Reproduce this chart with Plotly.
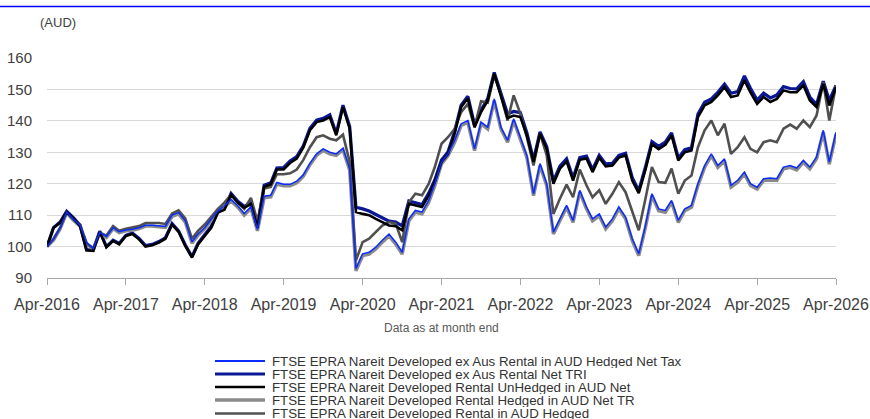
import pandas as pd
import plotly.graph_objects as go

# Month-end index levels (AUD), Apr-2016 = 100
months = pd.date_range("2016-04-01", periods=121, freq="MS")

series_names = [
    "FTSE EPRA Nareit Developed ex Aus Rental in AUD Hedged Net Tax",
    "FTSE EPRA Nareit Developed ex Aus Rental Net TRI",
    "FTSE EPRA Nareit Developed Rental UnHedged in AUD Net",
    "FTSE EPRA Nareit Developed Rental Hedged in AUD Net TR",
    "FTSE EPRA Nareit Developed Rental in AUD Hedged",
]

ex_aus_hedged_net_tax = [
    100, 102.3, 106, 111, 108.7, 106.8, 101.3, 99.4, 104.5, 103.2,
    106, 104.7, 105.3, 105.5, 106, 106.8, 106.8, 106.6, 106.4, 110,
    110.8, 108.2, 101.5, 104, 106, 108.7, 111.3, 113, 115, 113,
    110.5, 112.7, 105.5, 116, 116.3, 120.4, 119.8, 119.8, 120.8, 122.8,
    126.5, 129.5, 131.1, 130, 129.5, 131.3, 124.8, 93, 97.7, 98.2,
    99.8, 102, 104, 101.4, 98.2, 108.8, 111.5, 111, 114.7, 120,
    126.9, 129.5, 133.8, 139.1, 140.1, 131.1, 139.6, 138, 147, 138,
    133.8, 140.7, 134.8, 129, 116.8, 126.4, 120, 104.6, 108.8, 113.1,
    108.3, 117.9, 112.6, 108.8, 110.4, 106.2, 108.8, 112.6, 109.4, 102.5,
    97.7, 106.7, 116.8, 112, 111.5, 114.7, 108.3, 112, 113.1, 120,
    125.8, 129.5, 125.8, 127.9, 119.5, 121.1, 123.7, 120, 118.9, 121.6,
    121.8, 121.6, 125.3, 125.8, 125, 127.4, 125.3, 128.5, 137, 126.9,
    136.4,
]

ex_aus_net_tri = [
    100, 106, 107.8, 111.2, 109.2, 106.8, 99, 98.8, 104.9, 100,
    102, 101, 103.6, 104.3, 102.6, 100.3, 100.7, 101.6, 102.8, 107.3,
    105, 100.5, 96.8, 101, 103.8, 106.4, 111.2, 112.1, 116.9, 114.4,
    112.8, 113.9, 106.3, 119.5, 120.3, 125, 125.1, 127.2, 128.6, 132,
    137.6, 140.2, 140.8, 141.9, 136, 145, 138.2, 112.5, 112, 111.3,
    110.2, 109.2, 108.1, 107.8, 106.6, 114.5, 114, 113.4, 117, 121.2,
    127.5, 130.1, 136.7, 145, 147.8, 138.7, 143.4, 147.1, 155.4, 148.8,
    142.2, 143, 142.6, 136.2, 127.6, 136.5, 131.8, 120.8, 125.6, 127.9,
    121.8, 128.3, 128.8, 124.5, 129, 126.3, 126.5, 129, 129.7, 121.9,
    117.8, 125.3, 133.4, 131.9, 133.2, 136.2, 128.2, 130.8, 131.4, 142.2,
    145.9, 147, 149.1, 151.7, 148.8, 149.3, 154.3, 150.4, 146.6, 148.8,
    147.3, 148.2, 150.9, 150.3, 150.2, 152.5, 147.6, 145.2, 152.6, 146.5,
    151.3,
]

unhedged_aud_net = [
    100, 106, 107.6, 111, 109, 106.5, 98.8, 98.6, 104.7, 99.8,
    101.8, 100.7, 103.4, 104, 102.3, 100, 100.4, 101.3, 102.5, 107,
    104.7, 100.2, 96.5, 100.7, 103.4, 106, 110.8, 111.7, 116.5, 114,
    112.4, 113.5, 106, 119, 119.8, 124.5, 124.5, 126.6, 128, 131.5,
    137, 139.6, 140.1, 141.2, 135.4, 144.4, 137.5, 111, 110.4, 110,
    108.8, 107.8, 106.7, 106.5, 105.2, 113.6, 113.1, 112.6, 116.3, 120.5,
    126.9, 129.5, 136, 144.4, 147.2, 138, 142.8, 146.5, 155, 148.1,
    140.9, 141.7, 141.2, 135.4, 126.9, 135.9, 131.1, 120, 124.8, 127.1,
    121, 127.6, 128, 123.7, 128.3, 125.5, 125.8, 128.3, 129, 121,
    117, 124.5, 132.6, 131, 132.4, 135.4, 127.4, 130, 130.6, 141.2,
    144.9, 146, 148.1, 150.7, 147.6, 148.1, 152.9, 149.1, 145.4, 147.6,
    146, 147, 149.7, 149.1, 149.1, 151.3, 146.5, 144.4, 151.8, 144.9,
    150.7,
]

hedged_aud_net_tr = [
    100, 102, 105.7, 110.7, 108.4, 106.5, 101, 99.1, 104.2, 102.9,
    105.7, 104.4, 105, 105.2, 105.7, 106.5, 106.5, 106.3, 106.1, 109.6,
    110.4, 107.8, 101.1, 103.6, 105.6, 108.3, 110.9, 112.6, 114.6, 112.5,
    110, 112.2, 105, 115.5, 115.8, 119.9, 119.3, 119.3, 120.3, 122.3,
    126, 129, 130.6, 129.5, 129, 130.8, 124.3, 92.3, 97.1, 97.6,
    99.2, 101.4, 103.4, 100.8, 97.6, 108.2, 110.9, 110.4, 114.1, 119.4,
    126.3, 128.9, 133.2, 138.5, 139.5, 130.5, 139, 137.4, 146.4, 137.4,
    133.2, 140.1, 134.2, 128.4, 116.2, 125.8, 119.4, 104, 108.2, 112.5,
    107.7, 117.3, 112, 108.2, 109.8, 105.6, 108.2, 112, 108.8, 101.9,
    97.1, 106.1, 116.2, 111.4, 110.9, 114.1, 107.7, 111.4, 112.5, 119.4,
    125.2, 128.9, 125.2, 127.3, 118.9, 120.5, 123.1, 119.4, 118.3, 121,
    121.2, 121, 124.7, 125.2, 124.4, 126.8, 124.7, 127.9, 136.4, 126.2,
    135.8,
]

aud_hedged = [
    100, 102.5, 106, 111, 108.7, 107, 101, 99.5, 104.5, 103.5,
    106.5, 105, 105.7, 106, 106.5, 107.5, 107.5, 107.5, 107.2, 110.5,
    111.5, 109, 102.5, 105, 107, 109.5, 112, 114, 116.5, 114,
    112, 115.5, 108, 118.5, 119, 123, 123, 123.3, 124.5, 127.5,
    131.6, 134.8, 135.4, 134.3, 133.8, 135.6, 126.9, 95.6, 101.4, 102.5,
    104.6, 106.7, 107.8, 107.3, 101.4, 114.1, 116.8, 116.3, 120, 125.3,
    132.7, 134.8, 137.5, 142.8, 145.4, 138, 146.2, 145.8, 154.5, 148,
    140.1, 148.1, 142.3, 134.8, 125.8, 135.9, 129, 110.4, 115.2, 119.7,
    115.7, 124.5, 119.5, 115.7, 117.9, 113.6, 116.8, 120.5, 117.3, 110.9,
    105.2, 115.2, 125.3, 120.5, 120.3, 124.8, 116.8, 121, 122.6, 131.6,
    137, 140.1, 135.4, 139.1, 129.5, 131.6, 134.8, 131.1, 130, 133.2,
    133.8, 133.2, 137.5, 138.8, 137.5, 140.1, 138, 141.7, 152.3, 140.1,
    151.3,
]

series_values = [ex_aus_hedged_net_tax, ex_aus_net_tri, unhedged_aud_net,
                 hedged_aud_net_tr, aud_hedged]
colors = ["#0a2cff", "#0a1896", "#000000", "#8a8a8a", "#505050"]
widths = [1.5, 3.2, 2.6, 3.4, 2.6]
# drawing order: wide under-lines first, thin blue last
draw_order = [1, 3, 4, 2, 0]

W, H = 870, 419
L, R, T, B = 47, 34, 58, 141
PW, PH = W - L - R, H - T - B
FONT = "Liberation Sans, Arial, sans-serif"


def px_x(px):
    return (px - L) / PW


def px_y(py):
    return (H - B - py) / PH


fig = go.Figure()
for i in draw_order:
    fig.add_trace(go.Scatter(
        x=months, y=series_values[i], mode="lines", name=series_names[i],
        line=dict(color=colors[i], width=widths[i]),
        showlegend=False, hoverinfo="skip",
    ))

shapes = [
    # blue rule across the top of the page
    dict(type="line", xref="paper", yref="paper",
         x0=px_x(0), x1=px_x(W), y0=px_y(6.5), y1=px_y(6.5),
         line=dict(color="#0000ff", width=1.4)),
]
annotations = [
    dict(text="(AUD)", xref="paper", yref="paper", x=px_x(38), y=px_y(22),
         xanchor="left", yanchor="middle", showarrow=False,
         font=dict(family=FONT, size=13, color="#404040")),
    dict(text="Data as at month end", xref="paper", yref="paper",
         x=0.5, y=px_y(328), xanchor="center", yanchor="middle",
         showarrow=False, font=dict(family=FONT, size=12, color="#595959")),
]

# legend block beneath the chart
row_y = [361, 374, 387, 400, 413.5]
for i, yy in enumerate(row_y):
    shapes.append(dict(type="line", xref="paper", yref="paper",
                       x0=px_x(215), x1=px_x(265), y0=px_y(yy), y1=px_y(yy),
                       line=dict(color=colors[i], width=widths[i] if i else 2.2)))
    annotations.append(dict(text=series_names[i], xref="paper", yref="paper",
                            x=px_x(270), y=px_y(yy), xanchor="left",
                            yanchor="middle", showarrow=False, height=13,
                            valign="middle",
                            font=dict(family=FONT, size=13.3, color="#333333")))

tick_dates = pd.date_range("2016-04-01", "2026-04-01", freq="12MS")

fig.update_layout(
    width=W, height=H,
    margin=dict(l=L, r=R, t=T, b=B, pad=0),
    paper_bgcolor="white", plot_bgcolor="white",
    shapes=shapes, annotations=annotations,
    xaxis=dict(
        type="date", range=[months[0], months[-1]],
        tickvals=tick_dates, tickformat="%b-%Y",
        ticks="outside", ticklen=6, tickcolor="#a6a6a6", tickwidth=1,
        showline=True, linecolor="#a6a6a6", linewidth=1,
        showgrid=False, zeroline=False, automargin=False,
        tickfont=dict(family=FONT, size=16, color="#404040"),
        ticklabelstandoff=6,
    ),
    yaxis=dict(
        range=[90, 160], dtick=10, tick0=90,
        showgrid=True, gridcolor="#d9d9d9", gridwidth=1,
        showline=False, zeroline=False, automargin=False,
        tickfont=dict(family=FONT, size=15, color="#404040"),
        ticklabelstandoff=14,
    ),
)

fig.write_html("out.html")
